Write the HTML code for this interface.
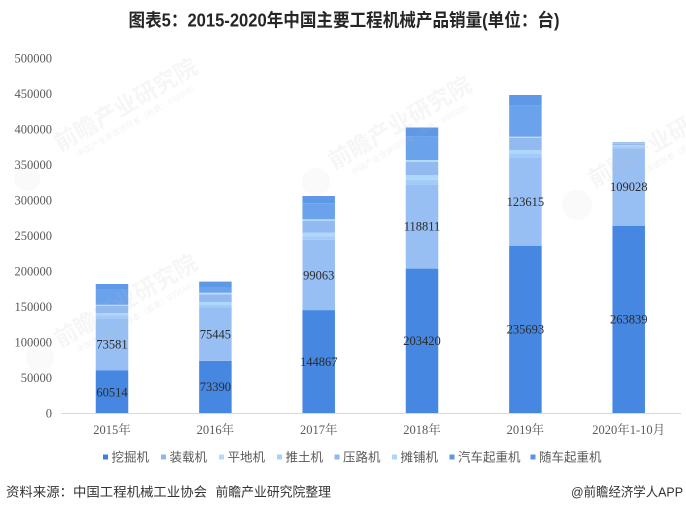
<!DOCTYPE html>
<html>
<head>
<meta charset="utf-8">
<style>
  html,body{margin:0;padding:0;background:#fff;}
  svg{display:block;}
  .ax{font-family:"Liberation Serif","Noto Serif CJK SC",serif;font-size:12.5px;fill:#595959;}
  .val{font-family:"Liberation Serif","Noto Serif CJK SC",serif;font-size:12.5px;fill:#2b2b2b;text-anchor:middle;}
  .lg{font-family:"Liberation Sans","Noto Sans CJK SC",sans-serif;font-size:12.5px;fill:#595959;}
  .src{font-family:"Liberation Sans","Noto Sans CJK SC",sans-serif;font-size:13px;fill:#333;}
  .wm{font-family:"Liberation Sans","Noto Sans CJK SC",sans-serif;font-weight:bold;font-size:23px;fill:#bdbdbd;opacity:0.12;}
  .wms{font-family:"Liberation Sans","Noto Sans CJK SC",sans-serif;font-size:8px;fill:#bdbdbd;opacity:0.18;}
</style>
</head>
<body>
<svg width="686" height="509" viewBox="0 0 686 509" xmlns="http://www.w3.org/2000/svg">
  <rect x="0" y="0" width="686" height="509" fill="#fff"/>

  <!-- Title -->
  <text x="128.5" y="26.5" textLength="431" lengthAdjust="spacingAndGlyphs" style="font-family:'Liberation Sans','Noto Sans CJK SC',sans-serif;font-weight:bold;font-size:18px;fill:#262626;">图表5：2015-2020年中国主要工程机械产品销量(单位：台)</text>

  <!-- Y axis labels -->
  <g class="ax" text-anchor="end">
    <text x="52" y="62.5">500000</text>
    <text x="52" y="98">450000</text>
    <text x="52" y="133.5">400000</text>
    <text x="52" y="169">350000</text>
    <text x="52" y="204.5">300000</text>
    <text x="52" y="240">250000</text>
    <text x="52" y="275.5">200000</text>
    <text x="52" y="311">150000</text>
    <text x="52" y="346.5">100000</text>
    <text x="52" y="382">50000</text>
    <text x="52" y="417.5">0</text>
  </g>

  <!-- Bars -->
  <g id="bars">
    <g transform="translate(95.75,0)">
      <rect x="0" y="370.5" width="32.5" height="42.5" fill="#4587e1"/>
      <rect x="0" y="318.3" width="32.5" height="52.2" fill="#98bff3"/>
      <rect x="0" y="315.5" width="32.5" height="2.8" fill="#a3cbf7"/>
      <rect x="0" y="313" width="32.5" height="2.5" fill="#afd7fc"/>
      <rect x="0" y="306" width="32.5" height="7" fill="#92baf0"/>
      <rect x="0" y="304.8" width="32.5" height="1.2" fill="#b6dbfc"/>
      <rect x="0" y="289" width="32.5" height="15.8" fill="#6aa3ec"/>
      <rect x="0" y="284" width="32.5" height="5" fill="#5e98e7"/>
    </g>
    <g transform="translate(199.15,0)">
      <rect x="0" y="360.9" width="32.5" height="52.1" fill="#4587e1"/>
      <rect x="0" y="307.5" width="32.5" height="53.4" fill="#98bff3"/>
      <rect x="0" y="305" width="32.5" height="2.5" fill="#a3cbf7"/>
      <rect x="0" y="302" width="32.5" height="3" fill="#afd7fc"/>
      <rect x="0" y="294.3" width="32.5" height="7.7" fill="#92baf0"/>
      <rect x="0" y="292.7" width="32.5" height="1.6" fill="#b6dbfc"/>
      <rect x="0" y="287" width="32.5" height="5.7" fill="#6aa3ec"/>
      <rect x="0" y="281.6" width="32.5" height="5.4" fill="#5e98e7"/>
    </g>
    <g transform="translate(302.45,0)">
      <rect x="0" y="310.1" width="32.5" height="102.9" fill="#4587e1"/>
      <rect x="0" y="239.8" width="32.5" height="70.3" fill="#98bff3"/>
      <rect x="0" y="236.3" width="32.5" height="3.5" fill="#a3cbf7"/>
      <rect x="0" y="232.7" width="32.5" height="3.6" fill="#afd7fc"/>
      <rect x="0" y="220.7" width="32.5" height="12" fill="#92baf0"/>
      <rect x="0" y="219.3" width="32.5" height="1.4" fill="#b6dbfc"/>
      <rect x="0" y="203.3" width="32.5" height="16" fill="#6aa3ec"/>
      <rect x="0" y="196" width="32.5" height="7.3" fill="#5e98e7"/>
    </g>
    <g transform="translate(405.75,0)">
      <rect x="0" y="268.6" width="32.5" height="144.4" fill="#4587e1"/>
      <rect x="0" y="184.3" width="32.5" height="84.3" fill="#98bff3"/>
      <rect x="0" y="179.7" width="32.5" height="4.6" fill="#a3cbf7"/>
      <rect x="0" y="175" width="32.5" height="4.7" fill="#afd7fc"/>
      <rect x="0" y="161.7" width="32.5" height="13.3" fill="#92baf0"/>
      <rect x="0" y="160" width="32.5" height="1.7" fill="#b6dbfc"/>
      <rect x="0" y="136.7" width="32.5" height="23.3" fill="#6aa3ec"/>
      <rect x="0" y="127.5" width="32.5" height="9.2" fill="#5e98e7"/>
    </g>
    <g transform="translate(509.15,0)">
      <rect x="0" y="245.7" width="32.5" height="167.3" fill="#4587e1"/>
      <rect x="0" y="158" width="32.5" height="87.7" fill="#98bff3"/>
      <rect x="0" y="154" width="32.5" height="4" fill="#a3cbf7"/>
      <rect x="0" y="150" width="32.5" height="4" fill="#afd7fc"/>
      <rect x="0" y="138" width="32.5" height="12" fill="#92baf0"/>
      <rect x="0" y="136.7" width="32.5" height="1.3" fill="#b6dbfc"/>
      <rect x="0" y="105.7" width="32.5" height="31" fill="#6aa3ec"/>
      <rect x="0" y="95" width="32.5" height="10.7" fill="#5e98e7"/>
    </g>
    <g transform="translate(612.45,0)">
      <rect x="0" y="225.7" width="32.5" height="187.3" fill="#4587e1"/>
      <rect x="0" y="148.3" width="32.5" height="77.4" fill="#98bff3"/>
      <rect x="0" y="146.3" width="32.5" height="2" fill="#a3cbf7"/>
      <rect x="0" y="145.3" width="32.5" height="1" fill="#afd7fc"/>
      <rect x="0" y="143.5" width="32.5" height="1.8" fill="#92baf0"/>
      <rect x="0" y="143" width="32.5" height="0.5" fill="#b6dbfc"/>
      <rect x="0" y="142.6" width="32.5" height="0.4" fill="#6aa3ec"/>
      <rect x="0" y="142.3" width="32.5" height="0.3" fill="#5e98e7"/>
    </g>
  </g>

  <!-- axis line -->
  <line x1="61" y1="413.5" x2="681" y2="413.5" stroke="#d9d9d9" stroke-width="1"/>

  <!-- Watermarks -->
  <g>
    <g transform="translate(60,152) rotate(-30)">
      <text class="wm" x="0" y="0">前瞻产业研究院</text>
      <text class="wms" x="14" y="14">中国产业咨询领导者（股票：839559）</text>
    </g>
    <circle cx="27" cy="178" r="13" fill="#bdbdbd" opacity="0.07"/>
    <g transform="translate(60,348) rotate(-30)">
      <text class="wm" x="0" y="0">前瞻产业研究院</text>
      <text class="wms" x="14" y="14">中国产业咨询领导者（股票：839559）</text>
    </g>
    <circle cx="40" cy="358" r="14" fill="#bdbdbd" opacity="0.07"/>
    <g transform="translate(334,170) rotate(-30)">
      <text class="wm" x="0" y="0">前瞻产业研究院</text>
      <text class="wms" x="14" y="14">中国产业咨询领导者（股票：839559）</text>
    </g>
    <circle cx="316" cy="182" r="14" fill="#bdbdbd" opacity="0.07"/>
    <g transform="translate(594,188) rotate(-30)">
      <text class="wm" x="0" y="0">前瞻产业研究院</text>
      <text class="wms" x="14" y="14">中国产业咨询领导者（股票：839559）</text>
    </g>
    <circle cx="577" cy="205" r="15" fill="#bdbdbd" opacity="0.07"/>
  </g>

  <!-- Value labels -->
  <g class="val">
    <text x="112" y="396.5">60514</text>
    <text x="112" y="348.5">73581</text>
    <text x="215.4" y="391">73390</text>
    <text x="215.4" y="338.5">75445</text>
    <text x="318.7" y="366">144867</text>
    <text x="318.7" y="279.5">99063</text>
    <text x="422" y="345">203420</text>
    <text x="422" y="230.5">118811</text>
    <text x="525.4" y="333.5">235693</text>
    <text x="525.4" y="206">123615</text>
    <text x="628.7" y="323.5">263839</text>
    <text x="628.7" y="191">109028</text>
  </g>

  <!-- X labels -->
  <g class="ax" text-anchor="middle">
    <text x="112" y="434">2015年</text>
    <text x="215.4" y="434">2016年</text>
    <text x="318.7" y="434">2017年</text>
    <text x="422" y="434">2018年</text>
    <text x="525.4" y="434">2019年</text>
    <text x="628.7" y="434">2020年1-10月</text>
  </g>

  <!-- Legend -->
  <g>
    <rect x="103" y="454.5" width="5" height="5" fill="#3f80dc"/>
    <text class="lg" x="111.5" y="461.5">挖掘机</text>
    <rect x="161" y="454.5" width="5" height="5" fill="#8fb6ef"/>
    <text class="lg" x="169.5" y="461.5">装载机</text>
    <rect x="219" y="454.5" width="5" height="5" fill="#b3dafd"/>
    <text class="lg" x="227.5" y="461.5">平地机</text>
    <rect x="277" y="454.5" width="5" height="5" fill="#a6d1fa"/>
    <text class="lg" x="285.5" y="461.5">推土机</text>
    <rect x="334.5" y="454.5" width="5" height="5" fill="#8db8f0"/>
    <text class="lg" x="343" y="461.5">压路机</text>
    <rect x="392" y="454.5" width="5" height="5" fill="#aed5fb"/>
    <text class="lg" x="400.5" y="461.5">摊铺机</text>
    <rect x="449.5" y="454.5" width="5" height="5" fill="#5e97e6"/>
    <text class="lg" x="458" y="461.5">汽车起重机</text>
    <rect x="530.5" y="454.5" width="5" height="5" fill="#5a92e4"/>
    <text class="lg" x="539" y="461.5">随车起重机</text>
  </g>

  <!-- Source -->
  <text class="src" x="6" y="496.5" textLength="201" lengthAdjust="spacingAndGlyphs">资料来源：中国工程机械工业协会</text>
  <text class="src" x="215.5" y="496.5" textLength="115.5" lengthAdjust="spacingAndGlyphs">前瞻产业研究院整理</text>
  <text class="src" x="571" y="496.5" textLength="112" lengthAdjust="spacingAndGlyphs">@前瞻经济学人APP</text>
</svg>
</body>
</html>
